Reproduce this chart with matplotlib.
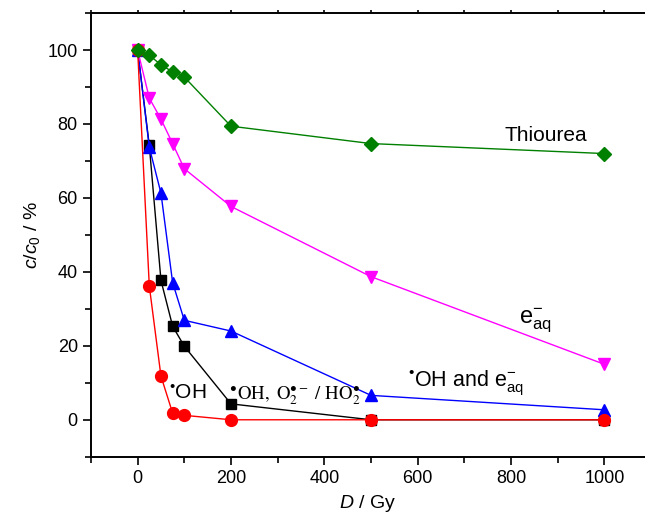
import matplotlib
matplotlib.use('Agg')
import matplotlib.pyplot as plt
from matplotlib.ticker import MultipleLocator

plt.rcParams['font.family'] = ['Liberation Sans', 'DejaVu Sans']
plt.rcParams['mathtext.fontset'] = 'custom'
plt.rcParams['mathtext.rm'] = 'Liberation Sans'
plt.rcParams['mathtext.it'] = 'Liberation Sans:italic'
plt.rcParams['mathtext.bf'] = 'Liberation Sans:bold'

# absorbed dose / Gy
dose = [0, 25, 50, 75, 100, 200, 500, 1000]

# remaining fraction c/c0 in % for each scavenger condition
oh_o2_ho2 = [100, 74.2, 37.7, 25.3, 19.9, 4.3, 0, 0]      # black squares
oh_and_eaq = [100, 73.7, 61.3, 37.1, 26.9, 24.0, 6.6, 2.7]  # blue triangles
eaq = [100, 87.0, 81.3, 74.7, 67.9, 57.7, 38.7, 15.0]       # magenta triangles
oh = [100, 36.2, 11.8, 1.8, 1.2, 0, 0, 0]                   # red circles
thiourea = [100, 98.6, 96.0, 94.1, 92.7, 79.4, 74.7, 72.0]  # green diamonds

BUL = '\u2022'

fig = plt.figure(figsize=(6.45, 5.22), dpi=100)
ax = fig.add_axes([0.141, 0.125, 0.859, 0.85])

ax.plot(dose, oh_o2_ho2, 's-', color='black', lw=1, ms=7)
ax.plot(dose, oh_and_eaq, '^-', color='blue', lw=1, ms=9)
ax.plot(dose, eaq, 'v-', color='magenta', lw=1, ms=9)
ax.plot(dose, oh, 'o-', color='red', lw=1, ms=8.5)
ax.plot(dose, thiourea, 'D-', color='green', lw=1, ms=7.5)

ax.set_xlim(-100, 1087)
ax.set_ylim(-10, 110)
ax.xaxis.set_major_locator(MultipleLocator(200))
ax.xaxis.set_minor_locator(MultipleLocator(100))
ax.yaxis.set_major_locator(MultipleLocator(20))
ax.yaxis.set_minor_locator(MultipleLocator(10))
ax.tick_params(which='both', direction='out', width=1.2, labelsize=13)
ax.tick_params(which='major', length=6)
ax.tick_params(which='minor', length=4)
# tiny marks on the top frame
ax.tick_params(axis='x', which='both', top=True, labeltop=False)
ax.xaxis.set_tick_params(which='both', top=True)
for t in ax.xaxis.get_major_ticks() + ax.xaxis.get_minor_ticks():
    t.tick2line.set_markersize(2)
ax.spines['right'].set_visible(False)
for s in ['left', 'bottom', 'top']:
    ax.spines[s].set_linewidth(1.4)

ax.set_xlabel('$\\it{D}$ / Gy', fontsize=14)
ax.set_ylabel('$\\it{c/c}_0$ / %', fontsize=14)

# series labels
ax.text(785, 75.3, 'Thiourea', fontsize=15)
ax.text(818, 26, 'e$^{-}_{\\rm aq}$', fontsize=17)
ax.text(580, 9, '$^{' + BUL + '}$OH and e$^{-}_{\\rm aq}$', fontsize=15.5)
ax.text(67, 5.5, '$^{' + BUL + '}$OH', fontsize=15)
ax.text(195, 5.5, '$^{' + BUL + '}\\mathrm{OH,\\ O_2^{' + BUL + '-}\\ /\\ HO_2^{' + BUL + '}}$',
        fontsize=13.5, math_fontfamily='stix')

fig.savefig('out.png', dpi=100)
